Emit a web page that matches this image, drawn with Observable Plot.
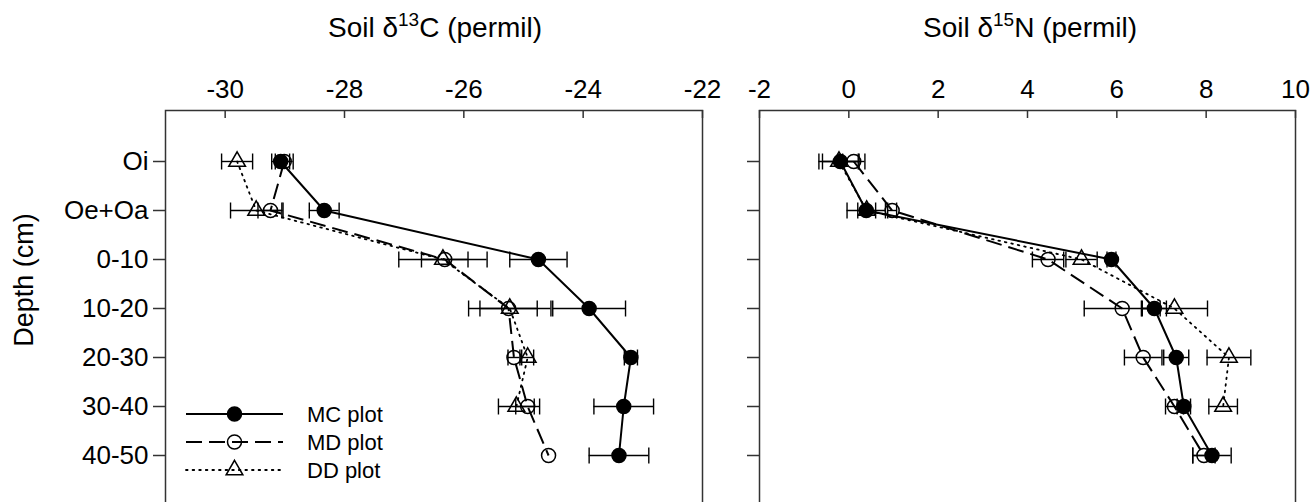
<!DOCTYPE html>
<html><head><meta charset="utf-8">
<script src="https://cdn.jsdelivr.net/npm/d3@7"></script>
<script src="https://cdn.jsdelivr.net/npm/@observablehq/plot@0.6"></script>
<style>
html,body{margin:0;padding:0;background:#fff;overflow:hidden;width:1313px;height:502px}
#wrap{position:relative;width:1313px;height:502px;font-family:"Liberation Sans",Arial,sans-serif;overflow:hidden}
.panel{position:absolute;top:0}
.title{position:absolute;top:14px;font-size:28px;white-space:nowrap;transform:translateX(-50%);color:#000;line-height:1}
.title sup{font-size:19px;vertical-align:top;position:relative;top:-4px;line-height:1}
.ylab{position:absolute;left:24px;top:280px;font-size:27px;white-space:nowrap;transform:translate(-50%,-50%) rotate(-90deg);line-height:1}
</style></head><body><div id="wrap"></div>
<script>
const depths = ["Oi","Oe+Oa","0-10","10-20","20-30","30-40","40-50"];
const seriesNames = ["MC plot","MD plot","DD plot"];
// Soil d13C (permil)
const c13_MC     = [-29.07,-28.34,-24.75,-23.90,-23.20,-23.32,-23.40];
const c13_MC_err = [0.15,0.25,0.48,0.61,0.11,0.50,0.50];
const c13_MD     = [-29.01,-29.24,-26.32,-25.25,-25.16,-24.93,-24.58];
const c13_MD_err = [0.15,0.21,0.39,0.48,0.10,0.20,null];
const c13_DD     = [-29.80,-29.48,-26.35,-25.23,-24.93,-25.12,null];
const c13_DD_err = [0.26,0.43,0.74,0.69,0.10,0.30,null];
// Soil d15N (permil)
const n15_MC     = [-0.19,0.39,5.88,6.84,7.33,7.50,8.13];
const n15_MC_err = [0.40,0.43,0.10,0.27,0.28,0.15,0.43];
const n15_MD     = [0.11,0.97,4.46,6.12,6.59,7.29,7.95];
const n15_MD_err = [0.25,0.10,0.35,0.85,0.42,0.20,0.25];
const n15_DD     = [-0.22,0.40,5.21,7.29,8.51,8.38,null];
const n15_DD_err = [0.45,0.20,0.35,0.74,0.49,0.32,null];
const c13Ticks = [-30,-28,-26,-24,-22];
const n15Ticks = [-2,0,2,4,6,8,10];
const c13Domain = [-31,-22];
const n15Domain = [-2,10];

function rows(vals, errs, name) {
  return depths.map((d,i)=>({depth:d, x:vals[i], err:errs[i], series:name}))
               .filter(r=>r.x!=null);
}
const styles = {
  "MC plot": {dash: null, lw: 2, symbol: "circle", fill: "black", r: 7},
  "MD plot": {dash: "16,7", lw: 2, symbol: "circle", fill: "none", r: 7},
  "DD plot": {dash: "1.6,5", lw: 1.8, symbol: "triangle", fill: "none", r: 6.2}
};
const capSymbol = {draw(ctx, size){ const h = Math.sqrt(size/Math.PI); ctx.moveTo(0,-h); ctx.lineTo(0,h); }};

const marginTop = 110, step = 49.5;
const frameH = step*8;
const plotH = marginTop + frameH;
const fontFam = '"Liberation Sans", Arial, sans-serif';

function panel(seriesData, ticks, domain, opts) {
  const marks = [];
  for (const [name, data] of seriesData) {
    const s = styles[name];
    marks.push(Plot.line(data, {x:"x", y:"depth", stroke:"black", strokeWidth:s.lw, strokeDasharray:s.dash,
      strokeLinecap: name==="DD plot" ? "round" : "butt"}));
  }
  for (const [name, data] of seriesData) {
    const e = data.filter(d=>d.err!=null);
    marks.push(Plot.ruleY(e, {y:"depth", x1:d=>d.x-d.err, x2:d=>d.x+d.err, stroke:"black", strokeWidth:1.4}));
    marks.push(Plot.dot(e, {x:d=>d.x-d.err, y:"depth", symbol:capSymbol, r:8, stroke:"black", strokeWidth:1.4, fill:"none"}));
    marks.push(Plot.dot(e, {x:d=>d.x+d.err, y:"depth", symbol:capSymbol, r:8, stroke:"black", strokeWidth:1.4, fill:"none"}));
  }
  for (const [name, data] of seriesData) {
    const s = styles[name];
    marks.push(Plot.dot(data, {x:"x", y:"depth", symbol:s.symbol, r:s.r, fill:s.fill, stroke:"black", strokeWidth:1.5}));
  }
  marks.push(Plot.frame({stroke:"#333", strokeWidth:1.5}));
  marks.push(Plot.tickX(ticks, {x:d=>d, insetBottom: frameH - 8, stroke:"#333", strokeWidth:1.5}));
  marks.push(Plot.axisX(ticks, {anchor:"top", label:null, tickSize:0, tickPadding:13, fontSize:26, fill:"black",
    tickFormat: d => String(d)}));
  marks.push(Plot.axisY({anchor:"left", label:null, tickSize:12, tickPadding:5, stroke:"#333", strokeWidth:1.5, fontSize:26, fill:"black",
    tickFormat: opts.labels ? (d=>d) : (()=>"")}));
  return Plot.plot({
    width: opts.width, height: plotH,
    marginLeft: opts.marginLeft, marginRight: opts.marginRight, marginTop, marginBottom: 0,
    style: {fontFamily: fontFam, background: "transparent", color: "black", overflow: "visible"},
    x: {domain, axis: null, label: null},
    y: {type: "point", domain: depths, padding: 1, axis: null, label: null},
    marks
  });
}

const wrap = document.getElementById("wrap");
const left = panel([["MC plot", rows(c13_MC,c13_MC_err,"MC plot")],["MD plot", rows(c13_MD,c13_MD_err,"MD plot")],["DD plot", rows(c13_DD,c13_DD_err,"DD plot")]],
  c13Ticks, c13Domain, {width:720, marginLeft:165, marginRight:18, labels:true});
left.classList.add("panel"); left.style.left = "0px";
wrap.appendChild(left);
const right = panel([["MC plot", rows(n15_MC,n15_MC_err,"MC plot")],["MD plot", rows(n15_MD,n15_MD_err,"MD plot")],["DD plot", rows(n15_DD,n15_DD_err,"DD plot")]],
  n15Ticks, n15Domain, {width:593, marginLeft:39, marginRight:18, labels:false});
right.classList.add("panel"); right.style.left = "720px";
wrap.appendChild(right);

const t1 = document.createElement("div"); t1.className="title"; t1.style.left="435px";
t1.innerHTML = "Soil \u03B4<sup>13</sup>C (permil)"; wrap.appendChild(t1);
const t2 = document.createElement("div"); t2.className="title"; t2.style.left="1030px";
t2.innerHTML = "Soil \u03B4<sup>15</sup>N (permil)"; wrap.appendChild(t2);
const yl = document.createElement("div"); yl.className="ylab"; yl.textContent="Depth (cm)"; wrap.appendChild(yl);

const lg = d3.select(wrap).append("svg").attr("width",420).attr("height",120)
  .style("position","absolute").style("left","170px").style("top","395px").style("overflow","visible");
seriesNames.forEach((name,i)=>{
  const s = styles[name];
  const y = 19 + i*28;
  const g = lg.append("g").attr("transform",`translate(0,${y})`);
  g.append("line").attr("x1",16).attr("x2",113).attr("y1",0).attr("y2",0)
    .attr("stroke","black").attr("stroke-width",s.lw)
    .attr("stroke-dasharray", s.dash).attr("stroke-linecap", name==="DD plot"?"round":"butt");
  const sym = d3.symbol(s.symbol==="circle"?d3.symbolCircle:d3.symbolTriangle, s.r*s.r*Math.PI);
  g.append("path").attr("d", sym()).attr("transform","translate(64.5,0)")
    .attr("fill", s.fill).attr("stroke","black").attr("stroke-width",1.5);
  g.append("text").attr("x",137).attr("y",0).attr("dy","0.35em")
    .attr("font-family",fontFam).attr("font-size",22).text(name);
});
</script>
</body></html>
